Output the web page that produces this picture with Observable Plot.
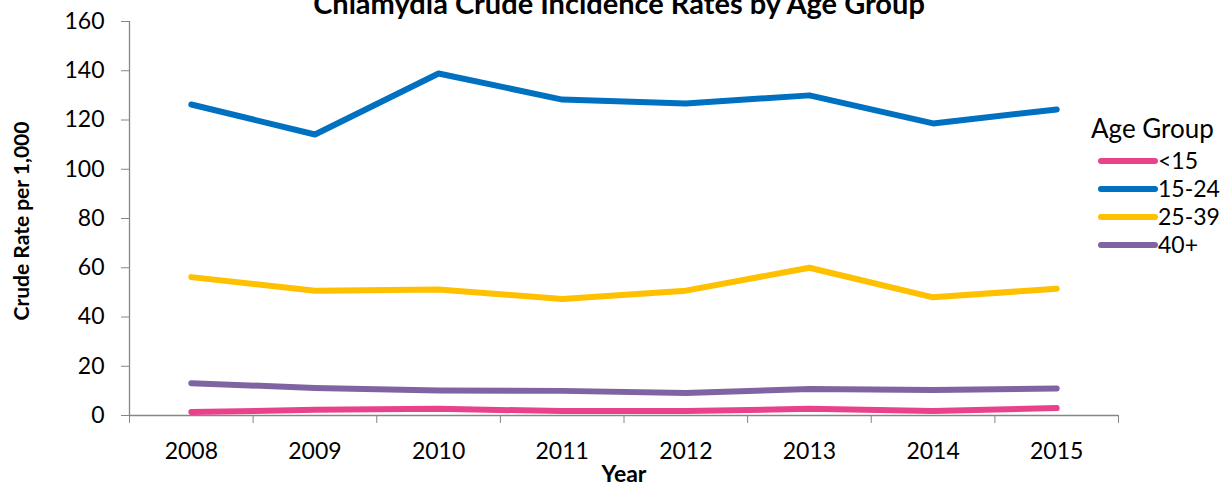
<!DOCTYPE html>
<html>
<head>
<meta charset="utf-8">
<script src="https://cdn.jsdelivr.net/npm/d3@7"></script>
<script src="https://cdn.jsdelivr.net/npm/@observablehq/plot@0.6"></script>
<style>
  html, body { margin: 0; padding: 0; background: #fff; }
  #chart { position: relative; width: 1224px; height: 487px; overflow: hidden; }
  svg { font-family: Lato, "Open Sans", sans-serif; }
</style>
</head>
<body>
<div id="chart"></div>
<script>
const years = [2008, 2009, 2010, 2011, 2012, 2013, 2014, 2015];
const groups = ["<15", "15-24", "25-39", "40+"];
const colors = ["#E8438A", "#0070C0", "#FFC000", "#8064A2"];
const under15 = [1.4, 2.3, 2.7, 1.8, 1.8, 2.7, 1.8, 3.0];
const age15to24 = [126.3, 114.1, 138.9, 128.3, 126.7, 130.0, 118.6, 124.3];
const age25to39 = [56.2, 50.7, 51.2, 47.3, 50.7, 60.0, 48.0, 51.5];
const age40plus = [13.1, 11.2, 10.2, 10.0, 9.1, 10.8, 10.4, 11.0];
const yTicks = [0, 20, 40, 60, 80, 100, 120, 140, 160];
const title = "Chlamydia Crude Incidence Rates by Age Group";

const seriesValues = [under15, age15to24, age25to39, age40plus];
const data = [];
groups.forEach((g, i) => years.forEach((y, j) => data.push({group: g, year: y, value: seriesValues[i][j]})));
const boundaries = years.map(y => y - 0.5).concat([years[years.length - 1] + 0.5]);
const axisGray = "#868686";

const plot = Plot.plot({
  width: 1224,
  height: 487,
  marginLeft: 129,
  marginRight: 106,
  marginTop: 21,
  marginBottom: 72,
  style: {fontFamily: "Lato, 'Open Sans', sans-serif", fontSize: "23px", color: "#000", background: "#fff", overflow: "visible"},
  x: {type: "linear", domain: [boundaries[0], boundaries[boundaries.length - 1]]},
  y: {domain: [0, 160]},
  color: {domain: groups, range: colors},
  marks: [
    Plot.axisY(yTicks, {tickSize: 8, tickPadding: 17, stroke: axisGray, fill: "#000", fontSize: 23, label: null, tickFormat: d => String(d)}),
    Plot.axisX(boundaries, {tickSize: 8, stroke: axisGray, tickFormat: () => "", label: null}),
    Plot.axisX(years, {tickSize: 0, tickPadding: 27, fill: "#000", fontSize: 23, label: null, tickFormat: d => String(d)}),
    Plot.ruleX([boundaries[0]], {stroke: axisGray, strokeWidth: 1.3}),
    Plot.ruleY([0], {stroke: axisGray, strokeWidth: 1.3}),
    Plot.line(data, {x: "year", y: "value", z: "group", stroke: "group", strokeWidth: 6, strokeLinecap: "round", strokeLinejoin: "round"})
  ]
});

document.getElementById("chart").appendChild(plot);

const svg = d3.select(plot);
svg.append("text")
  .attr("x", 619).attr("y", 14)
  .attr("text-anchor", "middle")
  .attr("font-weight", "bold").attr("font-size", 29)
  .attr("fill", "#000")
  .text(title);

svg.append("text")
  .attr("transform", "translate(29,221) rotate(-90)")
  .attr("text-anchor", "middle")
  .attr("font-weight", "bold").attr("font-size", 21)
  .attr("fill", "#000")
  .text("Crude Rate per 1,000");

svg.append("text")
  .attr("x", 624).attr("y", 482)
  .attr("text-anchor", "middle")
  .attr("font-weight", "bold").attr("font-size", 23)
  .attr("fill", "#000")
  .text("Year");

const legend = svg.append("g").attr("text-anchor", "start");
legend.append("text")
  .attr("x", 1091).attr("y", 138)
  .attr("text-anchor", "start")
  .attr("font-size", 26).attr("fill", "#000")
  .text("Age Group");
groups.forEach((g, i) => {
  const cy = 161 + i * 28;
  legend.append("line")
    .attr("x1", 1101).attr("x2", 1155).attr("y1", cy).attr("y2", cy)
    .attr("stroke", colors[i]).attr("stroke-width", 6).attr("stroke-linecap", "round");
  legend.append("text")
    .attr("x", 1158).attr("y", cy + 8)
    .attr("text-anchor", "start")
    .attr("font-size", 23).attr("fill", "#000")
    .text(g);
});
</script>
</body>
</html>
